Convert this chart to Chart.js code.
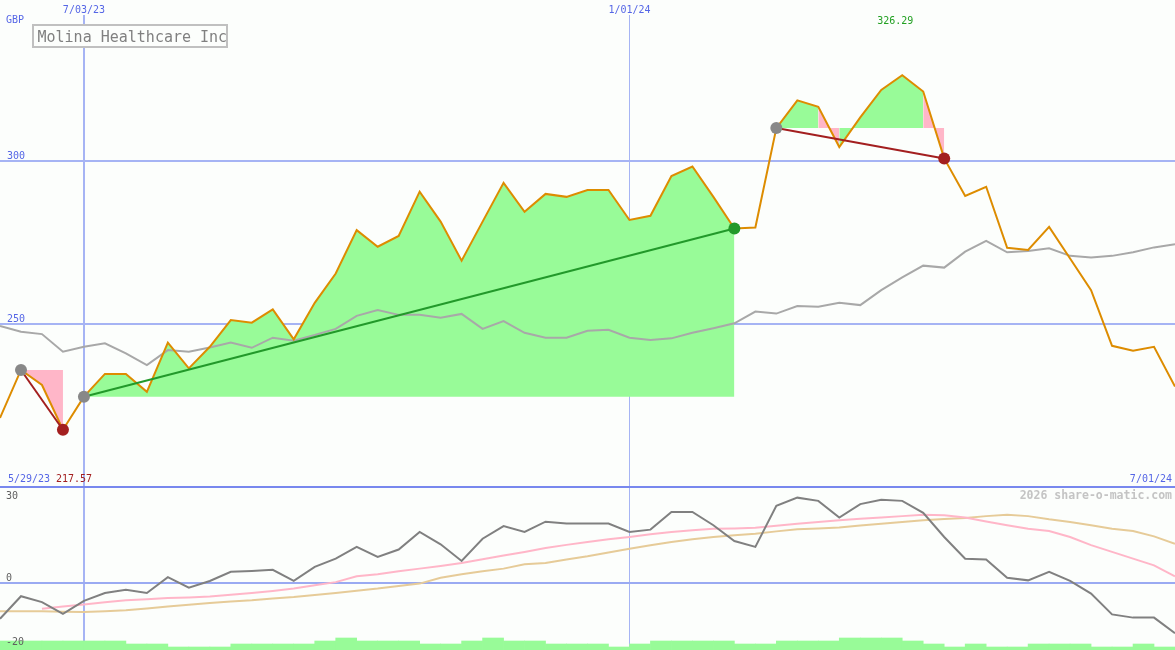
<!DOCTYPE html>
<html>
<head>
<meta charset="utf-8">
<script src="https://cdn.jsdelivr.net/npm/chart.js@4.4.1/dist/chart.umd.min.js"></script>
<style>
  body { margin: 0; background: #fcfefc; }
  #wrap { position: relative; width: 1175px; height: 650px; }
  #top { position: absolute; left: 0; top: 0; width: 1175px; height: 487px; }
  #bottom { position: absolute; left: 0; top: 487px; width: 1175px; height: 163px; }
</style>
</head>
<body>
<div id="wrap">
  <div id="top"><canvas id="chartPrice"></canvas></div>
  <div id="bottom"><canvas id="chartOsc"></canvas></div>
</div>
<script>
// weekly closes, index 0 .. 56
const price = [
  221.2, 235.9, 231.3, 217.57, 227.7, 234.7, 234.7, 229.2, 244.3, 236.4,
  243.0, 251.2, 250.4, 254.5, 245.3, 256.5, 265.5, 278.8, 273.7, 277.0,
  290.6, 281.4, 269.4, 281.4, 293.3, 284.4, 289.9, 289.0, 291.1, 291.1,
  281.9, 283.2, 295.4, 298.3, 289.0, 279.3, 279.6, 310.1, 318.6, 316.6,
  304.3, 313.4, 321.8, 326.29, 321.3, 300.8, 289.3, 292.1, 273.4, 272.7,
  279.8, 270.1, 260.4, 243.3, 241.8, 243.0, 230.8
];
const movingAvg = [
  249.4, 247.6, 246.9, 241.5, 243.0, 244.1, 241.0, 237.4, 242.0, 241.5,
  242.8, 244.3, 242.7, 245.8, 244.9, 246.6, 248.5, 252.5, 254.3, 252.8,
  252.8, 251.9, 253.1, 248.5, 250.9, 247.3, 245.8, 245.8, 247.9, 248.2,
  245.8, 245.1, 245.6, 247.3, 248.7, 250.2, 253.8, 253.2, 255.5, 255.3,
  256.5, 255.8, 260.4, 264.3, 267.9, 267.3, 272.2, 275.5, 272.0, 272.4,
  273.2, 270.9, 270.4, 270.9, 272.0, 273.5, 274.5
];
const oscillator = [
  -12.2, -4.5, -6.5, -10.5, -6.1, -3.4, -2.3, -3.4, 2.0, -1.6,
  0.7, 3.8, 4.1, 4.5, 0.7, 5.5, 8.3, 12.3, 8.9, 11.4,
  17.4, 13.2, 7.5, 15.1, 19.4, 17.4, 20.9, 20.3, 20.3, 20.3,
  17.4, 18.2, 24.2, 24.2, 19.7, 14.3, 12.3, 26.3, 29.1, 28.0,
  22.3, 26.9, 28.4, 28.0, 23.9, 15.7, 8.3, 8.0, 1.8, 0.9,
  3.8, 0.7, -3.6, -10.7, -11.8, -11.8, -17.1
];
const oscFast = [
  null, null, -8.8, -8.0, -7.3, -6.6, -5.9, -5.5, -5.1, -4.9,
  -4.6, -4.0, -3.4, -2.7, -1.9, -0.8, 0.3, 2.3, 3.0, 4.0,
  4.9, 5.8, 6.8, 8.1, 9.4, 10.6, 11.9, 13.0, 14.0, 14.9,
  15.7, 16.6, 17.4, 18.0, 18.5, 18.6, 18.8, 19.5, 20.2, 20.8,
  21.4, 21.9, 22.3, 22.8, 23.3, 23.1, 22.3, 21.0, 19.7, 18.5,
  17.7, 15.7, 12.9, 10.6, 8.3, 6.0, 2.3
];
const oscSlow = [
  -9.6, -9.6, -9.6, -9.8, -9.9, -9.6, -9.3, -8.7, -8.0, -7.4,
  -6.8, -6.3, -5.9, -5.3, -4.8, -4.1, -3.4, -2.6, -1.9, -1.0,
  -0.2, 1.8, 3.0, 4.0, 4.9, 6.4, 6.8, 8.0, 9.1, 10.4,
  11.7, 12.9, 14.0, 14.9, 15.7, 16.3, 16.8, 17.6, 18.3, 18.6,
  18.9, 19.6, 20.2, 20.8, 21.4, 21.8, 22.2, 22.8, 23.3, 22.8,
  21.7, 20.8, 19.7, 18.5, 17.7, 15.9, 13.4
];
// volume level per week interval (0..55)
const volume = [
  3, 3, 3, 3, 3, 3, 2, 2, 1, 1,
  1, 2, 2, 2, 2, 3, 4, 3, 3, 3,
  2, 2, 3, 4, 3, 3, 2, 2, 2, 1,
  2, 3, 3, 3, 3, 2, 2, 3, 3, 3,
  4, 4, 4, 3, 2, 1, 2, 1, 1, 2,
  2, 2, 1, 1, 2, 1
];
// trends: start index, end index
const trendFrom = [1, 4, 37];
const trendTo = [3, 35, 45];

const dateTicks = [4, 30];
const dateLabels = ['7/03/23', '1/01/24'];
const startLabel = '5/29/23';
const endLabel = '7/01/24';
const priceTicks = [250, 300];
const oscTicks = [30, -20];
const title = 'Molina Healthcare Inc';
const currency = 'GBP';
const watermark = '2026 share-o-matic.com';

const BLUE = '#5566e6';
const GRID = '#a6b4f4';
const GREEN_FILL = '#98fb98';
const PINK_FILL = '#ffb6c8';
const UP = '#22992a';
const DOWN = '#a31f1f';
const MONO = '"DejaVu Sans Mono", monospace';

const xy = arr => arr.map((v, i) => ({ x: i, y: v }));

// keep scales from reserving room for their labels
const noPad = s => {
    s.paddingTop = 0;
    s.paddingBottom = 0;
    s.paddingLeft = 0;
    s.paddingRight = 0;
};

// fill areas between price and the trend start level
const fillSets = trendFrom.map((from, k) => {
    const to = trendTo[k];
    const base = price[from];
    return {
        data: xy(price.map((v, i) => (i >= from && i <= to ? v : null))),
        borderWidth: 0,
        pointRadius: 0,
        backgroundColor: GREEN_FILL,
        fill: { value: base },
        segment: {
            backgroundColor: c => (c.p1.parsed.y >= base ? GREEN_FILL : PINK_FILL)
        }
    };
});

const trendSets = trendFrom.map((from, k) => {
    const to = trendTo[k];
    return {
        data: [{ x: from, y: price[from] }, { x: to, y: price[to] }],
        borderColor: price[to] > price[from] ? UP : DOWN,
        borderWidth: 2,
        pointRadius: 0,
        fill: false
    };
});

const markerPoints = [];
const markerColors = [];
trendFrom.forEach((from, k) => {
    const to = trendTo[k];
    markerPoints.push({ x: from, y: price[from] });
    markerColors.push('#888888');
    markerPoints.push({ x: to, y: price[to] });
    markerColors.push(price[to] > price[from] ? UP : DOWN);
});

const priceLabels = {
    id: 'priceLabels',
    afterDraw(chart) {
        const { ctx, scales: { x } } = chart;
        ctx.save();
        ctx.font = '10px ' + MONO;
        ctx.textBaseline = 'middle';
        ctx.fillStyle = BLUE;
        ctx.textAlign = 'left';
        ctx.fillText(currency, 6, 20);
        ctx.fillText(startLabel, 8, 479);
        ctx.textAlign = 'right';
        ctx.fillText(endLabel, 1172, 479);

        const hi = Math.max(...price);
        const lo = Math.min(...price);
        ctx.textAlign = 'center';
        ctx.fillStyle = '#22a022';
        ctx.fillText(hi.toFixed(2), x.getPixelForValue(price.indexOf(hi)) - 7, 21);
        ctx.textAlign = 'left';
        ctx.fillStyle = DOWN;
        ctx.fillText(lo.toFixed(2), 56, 479);

        // title box
        ctx.fillStyle = '#fcfefc';
        ctx.fillRect(33, 25, 194, 22);
        ctx.strokeStyle = '#c0c0c0';
        ctx.lineWidth = 2;
        ctx.strokeRect(33, 25, 194, 22);
        ctx.fillStyle = '#808080';
        ctx.font = '15px ' + MONO;
        ctx.textBaseline = 'alphabetic';
        ctx.fillText(title, 37.5, 41.5);

        ctx.fillStyle = '#7888ee';
        ctx.fillRect(0, 486, 1175, 1);
        ctx.restore();
    }
};

new Chart(document.getElementById('chartPrice'), {
    type: 'line',
    data: {
        datasets: [
            {
                data: markerPoints,
                showLine: false,
                pointRadius: 6,
                pointBorderWidth: 0,
                pointBackgroundColor: markerColors
            },
            ...trendSets,
            {
                data: xy(price),
                borderColor: '#dd8c00',
                borderWidth: 2,
                pointRadius: 0,
                fill: false
            },
            {
                data: xy(movingAvg),
                borderColor: '#a8a8a8',
                borderWidth: 2,
                pointRadius: 0,
                fill: false
            },
            ...fillSets
        ]
    },
    options: {
        responsive: true,
        maintainAspectRatio: false,
        animation: false,
        layout: { padding: 0, autoPadding: false },
        elements: { line: { tension: 0 } },
        plugins: { legend: { display: false }, tooltip: { enabled: false } },
        scales: {
            x: {
                type: 'linear',
                position: 'top',
                min: 0,
                max: 56,
                afterFit: s => { s.height = 15; noPad(s); },
                afterBuildTicks: s => { s.ticks = dateTicks.map(v => ({ value: v })); },
                ticks: {
                    autoSkip: false,
                    maxRotation: 0,
                    padding: -1,
                    color: BLUE,
                    font: { family: MONO, size: 10 },
                    callback: v => dateLabels[dateTicks.indexOf(v)]
                },
                grid: {
                    color: GRID,
                    offset: false,
                    lineWidth: c => (c.tick && c.tick.value === dateTicks[0] ? 2 : 1),
                    drawTicks: false
                },
                border: { display: false }
            },
            y: {
                position: 'left',
                min: 200,
                max: 344.785,
                afterFit: s => { s.width = 0; noPad(s); },
                afterBuildTicks: s => { s.ticks = priceTicks.map(v => ({ value: v })); },
                ticks: {
                    mirror: true,
                    padding: 7,
                    labelOffset: -5,
                    z: 1,
                    color: BLUE,
                    font: { family: MONO, size: 10 }
                },
                grid: { color: GRID, lineWidth: 2, drawTicks: false },
                border: { display: false }
            }
        }
    },
    plugins: [priceLabels]
});

const oscLabels = {
    id: 'oscLabels',
    afterDraw(chart) {
        const { ctx } = chart;
        ctx.save();
        ctx.fillStyle = '#7888ee';
        ctx.fillRect(0, 0, 1175, 1);
        ctx.font = 'bold 11.5px ' + MONO;
        ctx.fillStyle = '#c4c4c4';
        ctx.textAlign = 'right';
        ctx.textBaseline = 'middle';
        ctx.fillText(watermark, 1172, 9);
        ctx.restore();
    }
};

new Chart(document.getElementById('chartOsc'), {
    type: 'line',
    data: {
        datasets: [
            {
                data: xy(oscillator),
                borderColor: '#808080',
                borderWidth: 2,
                pointRadius: 0
            },
            {
                data: xy(oscFast),
                borderColor: '#ffb6c8',
                borderWidth: 2,
                pointRadius: 0
            },
            {
                data: xy(oscSlow),
                borderColor: '#e6cb98',
                borderWidth: 2,
                pointRadius: 0
            },
            {
                type: 'bar',
                yAxisID: 'yBar',
                data: volume.map((v, i) => ({ x: i + 0.5, y: v })),
                backgroundColor: GREEN_FILL,
                borderWidth: 0,
                barPercentage: 1,
                categoryPercentage: 1,
                grouped: false
            }
        ]
    },
    options: {
        responsive: true,
        maintainAspectRatio: false,
        animation: false,
        layout: { padding: 0, autoPadding: false },
        elements: { line: { tension: 0 } },
        plugins: { legend: { display: false }, tooltip: { enabled: false } },
        scales: {
            x: {
                type: 'linear',
                min: 0,
                max: 56,
                offset: false,
                afterFit: s => { s.height = 0; noPad(s); },
                afterBuildTicks: s => { s.ticks = dateTicks.map(v => ({ value: v })); },
                ticks: { display: false },
                grid: {
                    color: GRID,
                    offset: false,
                    lineWidth: c => (c.tick && c.tick.value === dateTicks[0] ? 2 : 1),
                    drawTicks: false
                },
                border: { display: false }
            },
            y: {
                position: 'left',
                min: -22.84,
                max: 32.73,
                afterFit: s => { s.width = 0; noPad(s); },
                afterBuildTicks: s => { s.ticks = oscTicks.map(v => ({ value: v })); },
                ticks: {
                    mirror: true,
                    padding: 6,
                    labelOffset: 1,
                    z: 1,
                    color: '#606060',
                    font: { family: MONO, size: 10 }
                },
                grid: { display: false },
                border: { display: false }
            },
            yZero: {
                position: 'left',
                min: -22.84,
                max: 32.73,
                afterFit: s => { s.width = 0; noPad(s); },
                afterBuildTicks: s => { s.ticks = [{ value: 0 }]; },
                ticks: {
                    mirror: true,
                    padding: 6,
                    labelOffset: -5,
                    z: 1,
                    color: '#606060',
                    font: { family: MONO, size: 10 }
                },
                grid: { color: '#9aaaf2', lineWidth: 2, drawTicks: false },
                border: { display: false }
            },
            yBar: {
                display: false,
                min: 0,
                max: 163 / 3,
                afterFit: noPad
            }
        }
    },
    plugins: [oscLabels]
});
</script>
</body>
</html>
